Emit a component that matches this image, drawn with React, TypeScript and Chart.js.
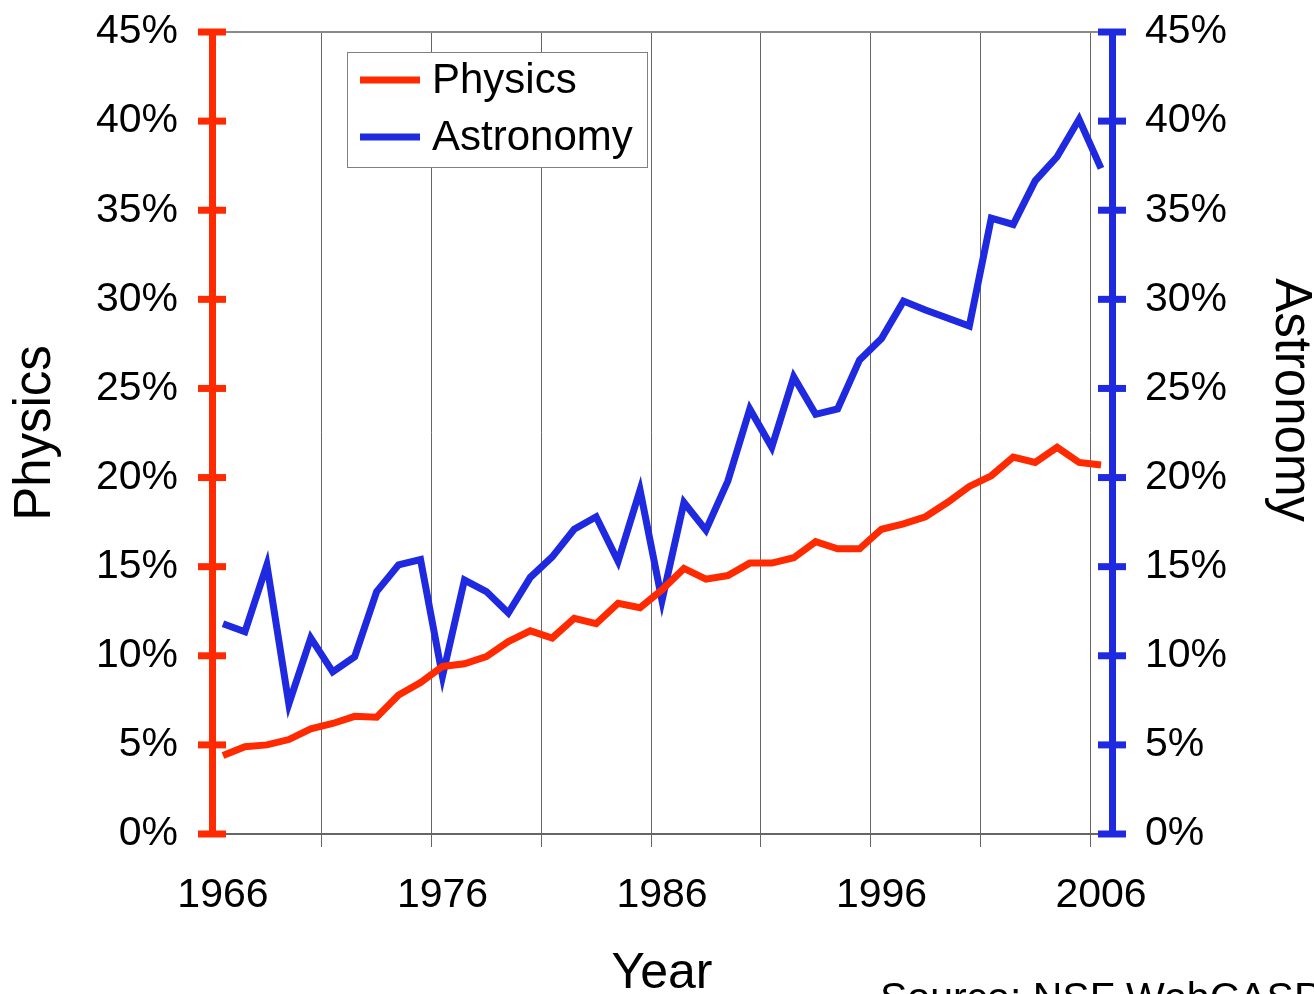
import React, { useEffect, useRef } from 'react';
import { Chart, registerables } from 'chart.js';

Chart.register(...registerables);

const years: string[] = [
  '1966', '1967', '1968', '1969', '1970', '1971', '1972', '1973', '1974', '1975',
  '1976', '1977', '1978', '1979', '1980', '1981', '1982', '1983', '1984', '1985',
  '1986', '1987', '1988', '1989', '1990', '1991', '1992', '1993', '1994', '1995',
  '1996', '1997', '1998', '1999', '2000', '2001', '2002', '2003', '2004', '2005',
  '2006',
];
const xTickLabels: string[] = ['1966', '1976', '1986', '1996', '2006'];

const physics: number[] = [
  4.4, 4.9, 5.0, 5.3, 5.9, 6.2, 6.6, 6.55, 7.8, 8.5,
  9.4, 9.55, 9.95, 10.8, 11.4, 11.0, 12.1, 11.8, 12.95, 12.7,
  13.7, 14.9, 14.3, 14.5, 15.2, 15.2, 15.5, 16.4, 16.0, 16.0,
  17.1, 17.4, 17.8, 18.6, 19.5, 20.1, 21.15, 20.85, 21.7, 20.85,
  20.7,
];
const astronomy: number[] = [
  11.8, 11.35, 15.1, 7.3, 11.0, 9.1, 9.95, 13.6, 15.1, 15.4,
  8.85, 14.25, 13.6, 12.4, 14.4, 15.55, 17.1, 17.8, 15.3, 19.3,
  13.1, 18.6, 17.05, 19.8, 23.85, 21.7, 25.65, 23.55, 23.85, 26.6,
  27.8, 29.9, 29.4, 28.95, 28.5, 34.55, 34.2, 36.65, 38.0, 40.1,
  37.35,
];
const yMin = 0;
const yMax = 45;
const yStep = 5;

const RED = '#ff2a00';
const BLUE = '#1f2ae0';
const FONT = "'Liberation Sans', Arial, Helvetica, sans-serif";
const W = 1314;
const H = 1020;

export default function App() {
  const ref = useRef<HTMLCanvasElement | null>(null);

  useEffect(() => {
    const canvas = ref.current;
    if (!canvas) return;

    const decorations = {
      id: 'decorations',
      afterDraw(chart: any) {
        const ctx = chart.ctx as CanvasRenderingContext2D;
        const area = chart.chartArea;
        // crossing tick marks on both value axes
        const specs: [string, string, number][] = [
          ['y', RED, area.left],
          ['y1', BLUE, area.right],
        ];
        for (const [id, color, x] of specs) {
          const s = chart.scales[id];
          ctx.save();
          ctx.strokeStyle = color;
          ctx.lineWidth = 7;
          s.ticks.forEach((t: any) => {
            const y = s.getPixelForValue(t.value);
            ctx.beginPath();
            ctx.moveTo(x - 14, y);
            ctx.lineTo(x + 14, y);
            ctx.stroke();
          });
          ctx.restore();
        }

        // legend box
        ctx.save();
        ctx.fillStyle = '#ffffff';
        ctx.fillRect(347.5, 52.5, 300, 115);
        ctx.strokeStyle = '#808080';
        ctx.lineWidth = 1;
        ctx.strokeRect(347.5, 52.5, 300, 115);
        const rows = [80, 137];
        chart.data.datasets.forEach((ds: any, i: number) => {
          const y = rows[i];
          ctx.strokeStyle = ds.borderColor;
          ctx.lineWidth = 7;
          ctx.beginPath();
          ctx.moveTo(360, y);
          ctx.lineTo(420, y);
          ctx.stroke();
          ctx.fillStyle = '#000';
          ctx.font = `42px ${FONT}`;
          ctx.textAlign = 'left';
          ctx.textBaseline = 'middle';
          ctx.fillText(ds.label, 432, y + 1);
        });
        ctx.restore();

        // right axis title
        ctx.save();
        ctx.translate(1290, 400);
        ctx.rotate(Math.PI / 2);
        ctx.fillStyle = '#000';
        ctx.font = `51px ${FONT}`;
        ctx.textAlign = 'center';
        ctx.textBaseline = 'middle';
        ctx.fillText('Astronomy', 0, 0);
        ctx.restore();

        // source note
        ctx.save();
        ctx.fillStyle = '#000';
        ctx.font = `41px ${FONT}`;
        ctx.textAlign = 'left';
        ctx.textBaseline = 'alphabetic';
        ctx.fillText('Source: NSF WebCASPAR', 880, 1011);
        ctx.restore();
      },
    };

    const fitY = (width: number) => (s: any) => {
      s.width = width;
      s.paddingTop = 0;
      s.paddingBottom = 0;
    };

    const chart = new Chart(canvas, {
      type: 'line',
      data: {
        labels: years,
        datasets: [
          {
            label: 'Physics',
            data: physics,
            borderColor: RED,
            backgroundColor: RED,
            borderWidth: 7,
            pointRadius: 0,
            tension: 0,
            yAxisID: 'y',
          },
          {
            label: 'Astronomy',
            data: astronomy,
            borderColor: BLUE,
            backgroundColor: BLUE,
            borderWidth: 7,
            pointRadius: 0,
            tension: 0,
            yAxisID: 'y1',
          },
        ],
      },
      options: {
        responsive: false,
        animation: false,
        layout: { padding: { top: 32, left: 0, right: 0, bottom: 0 } },
        plugins: {
          legend: { display: false },
          tooltip: { enabled: false },
        },
        scales: {
          x: {
            type: 'category',
            offset: true,
            grid: {
              offset: true,
              drawOnChartArea: true,
              drawTicks: true,
              tickLength: 13,
              lineWidth: 1,
              color: (c: any) =>
                typeof c.index === 'number' && c.index > 0 && c.index % 5 === 0
                  ? '#666666'
                  : 'rgba(0,0,0,0)',
            },
            border: { display: true, color: '#666666', width: 2 },
            ticks: {
              autoSkip: false,
              maxRotation: 0,
              minRotation: 0,
              padding: 24,
              color: '#000',
              font: { size: 41, family: FONT },
              callback: (_v: any, i: number) =>
                xTickLabels.includes(years[i]) ? years[i] : '',
            },
            title: {
              display: true,
              text: 'Year',
              color: '#000',
              font: { size: 50, family: FONT },
              padding: { top: 0, bottom: 16 },
            },
            afterFit: (s: any) => {
              s.height = H - 834;
              s.paddingLeft = 0;
              s.paddingRight = 0;
            },
          },
          y: {
            position: 'left',
            min: yMin,
            max: yMax,
            ticks: {
              stepSize: yStep,
              padding: 34,
              color: '#000',
              font: { size: 41, family: FONT },
              callback: (v: any) => `${v}%`,
            },
            grid: {
              drawOnChartArea: true,
              drawTicks: false,
              lineWidth: 2,
              color: (c: any) =>
                c.tick && c.tick.value === yMax ? '#8a8a8a' : 'rgba(0,0,0,0)',
            },
            border: { display: true, color: RED, width: 7 },
            title: {
              display: true,
              text: 'Physics',
              color: '#000',
              font: { size: 51, family: FONT },
              padding: { top: 5, bottom: 0 },
            },
            afterFit: fitY(212),
          },
          y1: {
            position: 'right',
            min: yMin,
            max: yMax,
            ticks: {
              stepSize: yStep,
              padding: 33,
              color: '#000',
              font: { size: 41, family: FONT },
              callback: (v: any) => `${v}%`,
            },
            grid: { drawOnChartArea: false, drawTicks: false },
            border: { display: true, color: BLUE, width: 7 },
            afterFit: fitY(W - 1112),
          },
        },
      },
      plugins: [decorations],
    } as any);

    return () => chart.destroy();
  }, []);

  return (
    <div style={{ position: 'absolute', left: 0, top: 0, width: W, height: H, background: '#fff' }}>
      <canvas ref={ref} width={W} height={H} style={{ display: 'block', width: W, height: H }} />
    </div>
  );
}
